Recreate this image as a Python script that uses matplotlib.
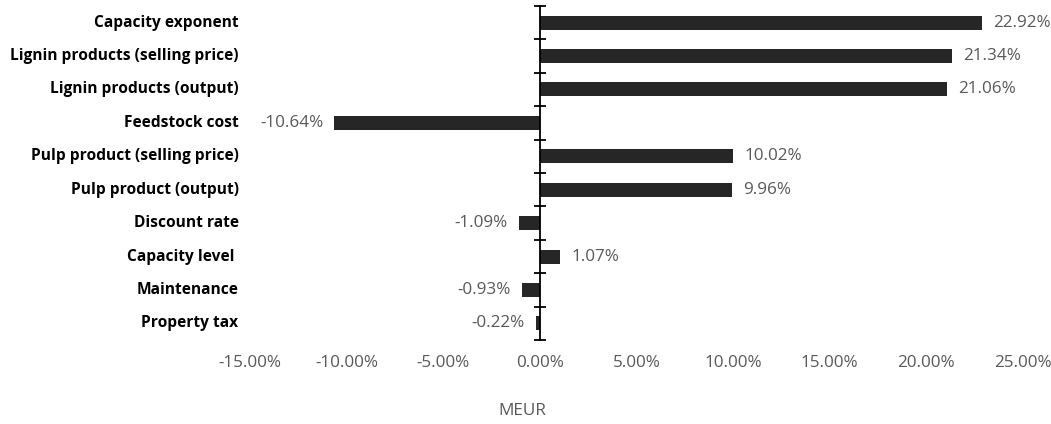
import matplotlib.pyplot as plt
import matplotlib.transforms as mtransforms
import numpy as np

categories = ["Capacity exponent", "Lignin products (selling price)", "Lignin products (output)",
              "Feedstock cost", "Pulp product (selling price)", "Pulp product (output)",
              "Discount rate", "Capacity level ", "Maintenance", "Property tax"]
values = [22.92, 21.34, 21.06, -10.64, 10.02, 9.96, -1.09, 1.07, -0.93, -0.22]
xticks = [-15, -10, -5, 0, 5, 10, 15, 20, 25]

plt.rcParams['font.family'] = ['Open Sans', 'DejaVu Sans']
fig = plt.figure(figsize=(10.51, 4.24), dpi=100)
ax = fig.add_axes([0.238, 0.198, 0.735, 0.788])

y = np.arange(len(categories))
ax.barh(y, values, height=0.42, color='#262626')
ax.set_xlim(-15, 25)
ax.set_ylim(len(categories) - 0.5, -0.5)

gray = '#595959'
for yi, v in zip(y, values):
    if v >= 0:
        ax.annotate(f"{v:.2f}%", (v, yi), xytext=(8, 0), textcoords='offset points',
                    ha='left', va='center', fontsize=12.3, color=gray)
    else:
        ax.annotate(f"{v:.2f}%", (v, yi), xytext=(-8, 0), textcoords='offset points',
                    ha='right', va='center', fontsize=12.3, color=gray)

# category labels left of the plot area
trans = mtransforms.blended_transform_factory(fig.transFigure, ax.transData)
for yi, c in zip(y, categories):
    ax.text(0.227, yi, c, transform=trans, ha='right', va='center',
            fontsize=11.2, fontweight='bold', color='black')

for s in ['top', 'right', 'bottom']:
    ax.spines[s].set_visible(False)
ax.spines['left'].set_position(('data', 0))
ax.spines['left'].set_color('black')
ax.spines['left'].set_linewidth(1.3)
ax.set_yticks(np.arange(len(categories) + 1) - 0.5)
ax.set_yticklabels([])
ax.tick_params(axis='y', direction='inout', length=9, width=1.3, color='black')

ax.set_xticks(xticks)
ax.set_xticklabels([f"{t:.2f}%" for t in xticks], fontsize=12.3, color=gray)
ax.tick_params(axis='x', length=0, pad=11)

fig.text(0.497, 0.03, "MEUR", ha='center', va='center', fontsize=12.3, color=gray)

fig.savefig("out.png", dpi=100)
